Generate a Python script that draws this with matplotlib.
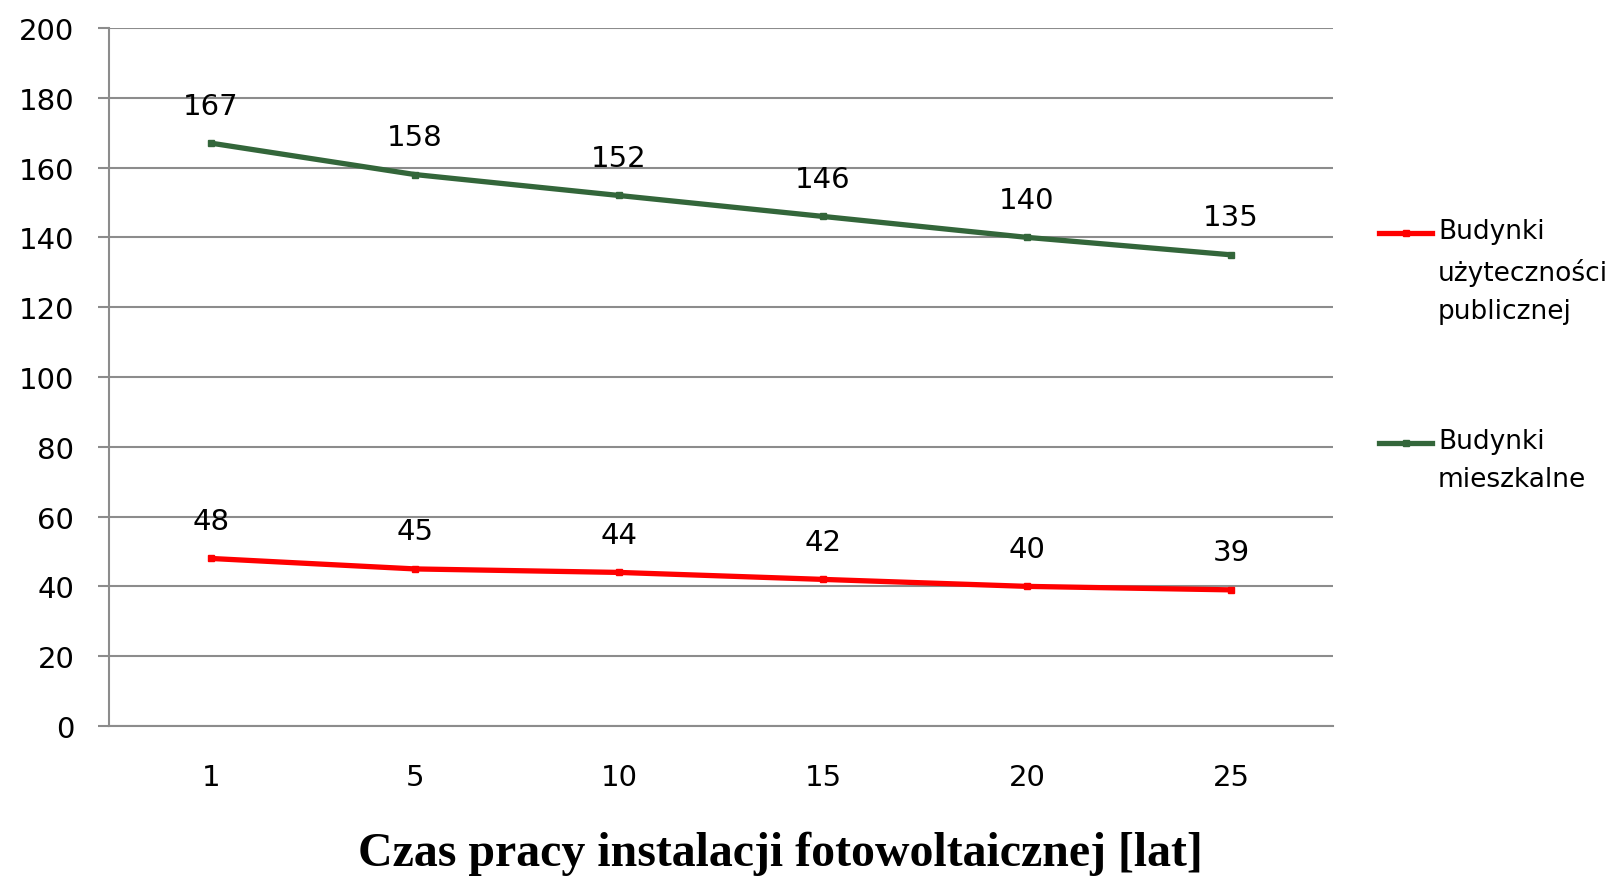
import numpy as np
import matplotlib
matplotlib.use('Agg')
import matplotlib.pyplot as plt
from matplotlib.lines import Line2D

# ====> data
years = ['1', '5', '10', '15', '20', '25']
public_bld = [48, 45, 44, 42, 40, 39]
housing_bld = [167, 158, 152, 146, 140, 135]
labels = ['Budynki\nużyteczności\npublicznej', 'Budynki\nmieszkalne']
y_ticks = np.arange(0, 201, 20)

plt.rcParams['font.family'] = ['DejaVu Sans']

fig = plt.figure(figsize=(16.1, 8.78), dpi=100)
ax = fig.add_axes([0.0677, 0.172, 0.7603, 0.795])

x = np.arange(len(years))
red = '#ff0000'
green = '#33663a'
colors = [red, green]

ax.plot(x, public_bld, color=red, lw=3.8, marker='s', ms=4)
ax.plot(x, housing_bld, color=green, lw=3.8, marker='s', ms=4)

# ====> value labels over the points
for series in [public_bld, housing_bld]:
    for xi, v in zip(x, series):
        ax.annotate(str(v), (xi, v), xytext=(0, 27), textcoords='offset points',
                    ha='center', va='center', fontsize=21)

# ====> axes styling
grid_c = '#8c8c8c'
ax.set_xlim(-0.5, len(years) - 0.5)
ax.set_ylim(0, 200)
ax.set_yticks(y_ticks)
ax.set_xticks(x)
ax.set_xticklabels(years)
ax.yaxis.grid(True, color=grid_c, lw=1.5)
ax.set_axisbelow(True)
for s in ['top', 'right']:
    ax.spines[s].set_visible(False)
for s in ['left', 'bottom']:
    ax.spines[s].set_color(grid_c)
    ax.spines[s].set_linewidth(1.5)
ax.tick_params(axis='y', length=8, width=1.5, color=grid_c, pad=17, labelsize=21)
ax.tick_params(axis='x', length=0, pad=27, labelsize=21)

# ====> legend on the right, handle level with first text line
W, H = 1610.0, 878.0
legend_y = [234, 444]
for lab, c, ly in zip(labels, colors, legend_y):
    yf = 1 - ly / H
    fig.add_artist(Line2D([1379 / W, 1432 / W], [yf, yf], color=c, lw=3.8,
                          transform=fig.transFigure))
    fig.add_artist(Line2D([1405.5 / W], [yf], color=c, marker='s', ms=4,
                          transform=fig.transFigure))
    fig.text(1438 / W, yf + 15 / H, lab, ha='left', va='top', fontsize=19,
             linespacing=1.62)

fig.text(0.485, 0.027, 'Czas pracy instalacji fotowoltaicznej [lat]',
         ha='center', va='center', fontsize=34.5, fontweight='bold',
         family='Liberation Serif')

plt.savefig('out.png')
plt.close()
